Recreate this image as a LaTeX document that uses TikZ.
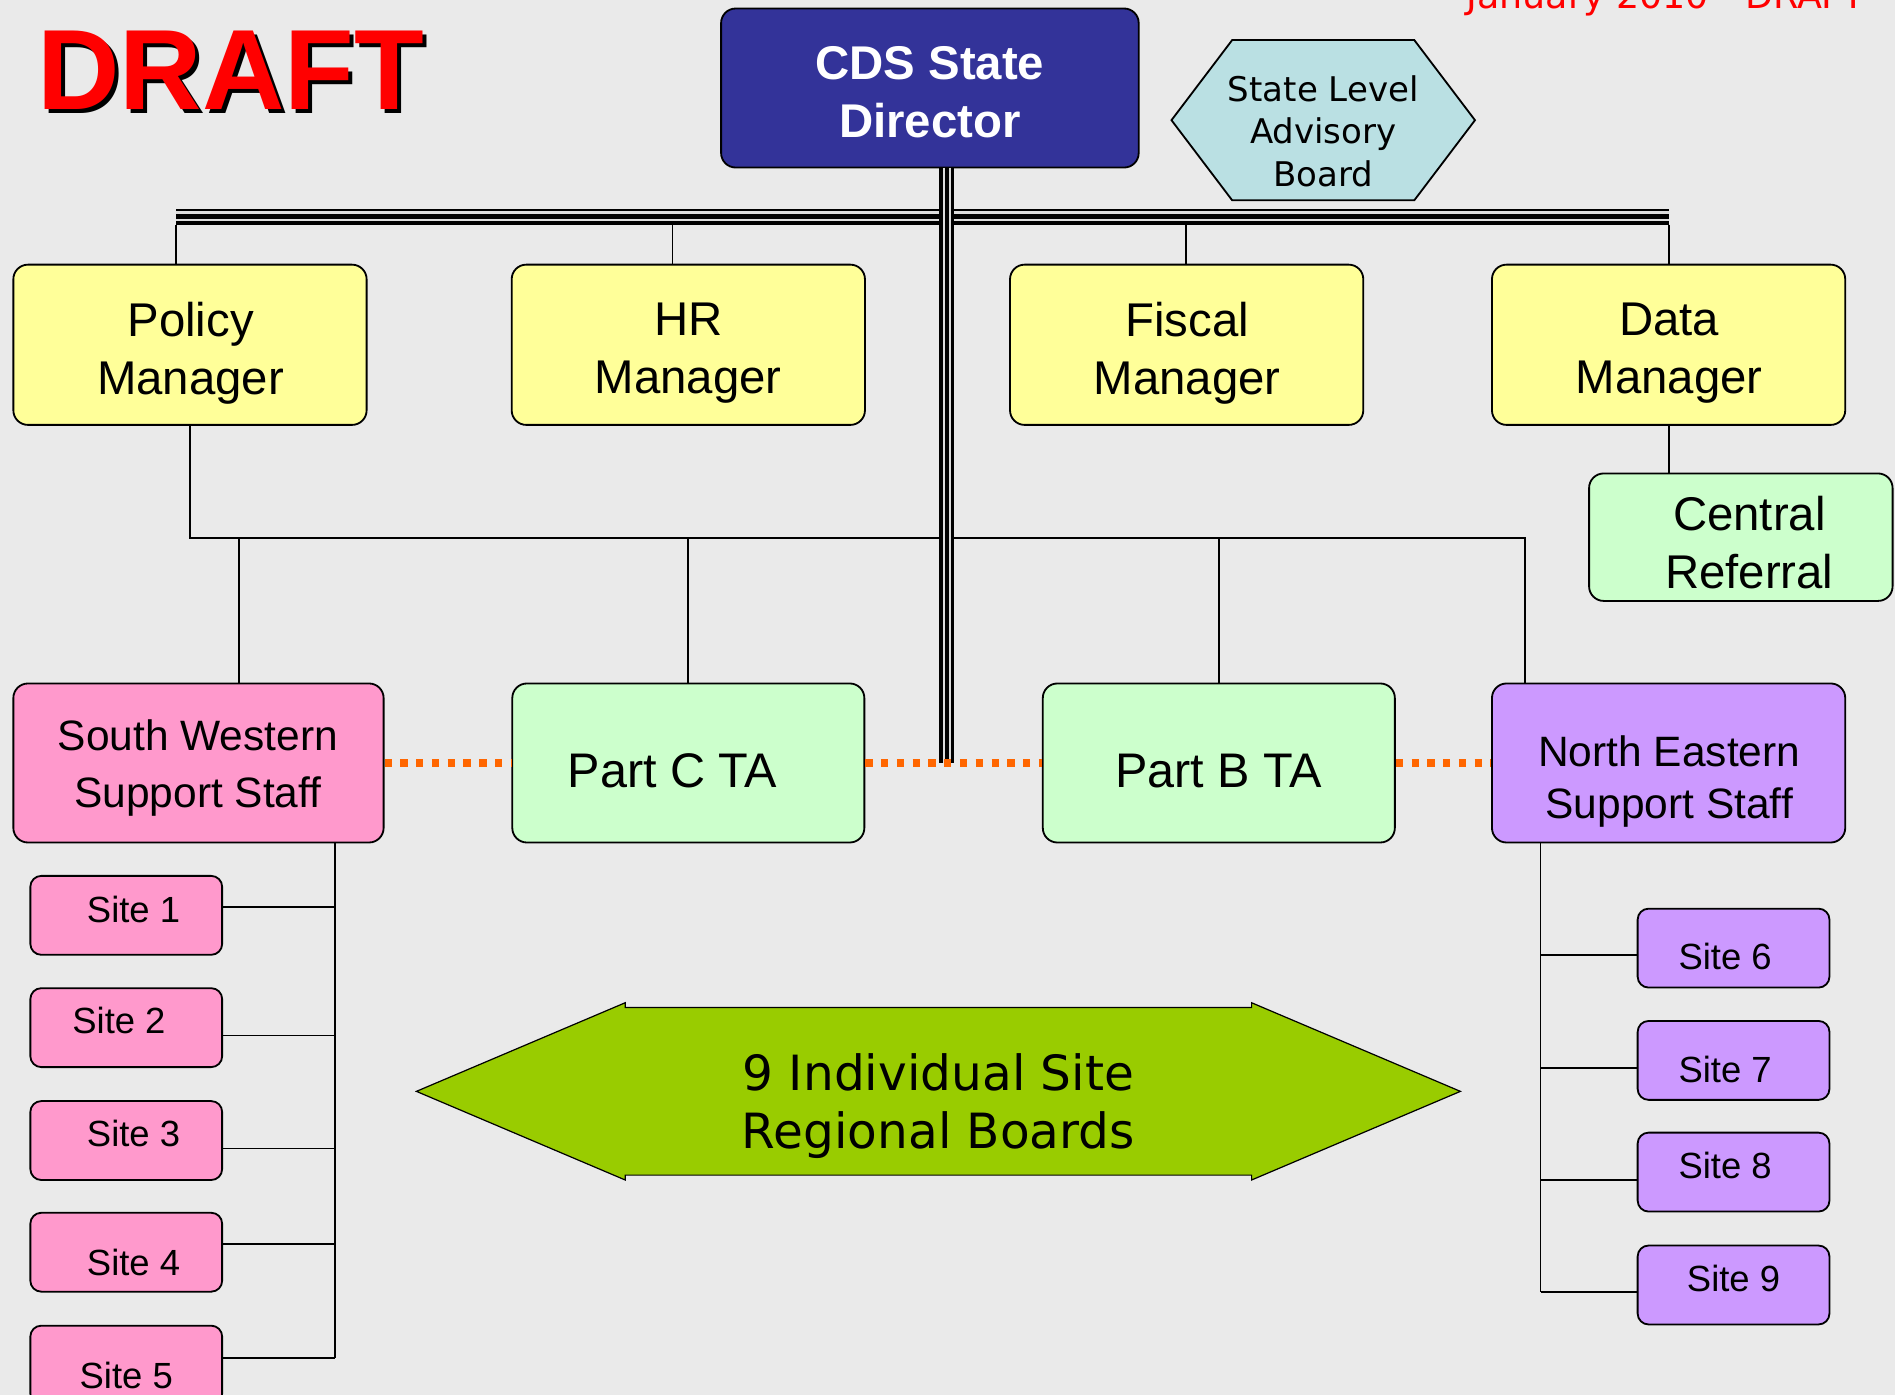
\documentclass[tikz,border=0pt]{standalone}
\usepackage{fontspec}
\setmainfont{Liberation Sans}
\newfontfamily\dejavu{DejaVu Sans}
\definecolor{bgc}{HTML}{EAEAEA}
\definecolor{dirblue}{HTML}{333399}
\definecolor{yelc}{HTML}{FFFF99}
\definecolor{lgreen}{HTML}{CCFFCC}
\definecolor{pinkc}{HTML}{FF99CC}
\definecolor{purc}{HTML}{CC99FF}
\definecolor{hexc}{HTML}{BAE0E3}
\definecolor{arrg}{HTML}{99CC00}
\definecolor{orc}{HTML}{FF6600}
\definecolor{redc}{HTML}{FF0000}
\definecolor{gapc}{HTML}{DCDCDC}
\begin{document}
\begin{tikzpicture}[x=1pt,y=-1pt,
  box/.style={draw=black, line width=1.5pt, rounded corners=12pt, inner sep=0pt},
  mgr/.style={box, fill=yelc, minimum width=291pt, minimum height=132pt},
  ta/.style={box, fill=lgreen, minimum width=290pt, minimum height=131pt},
  pinksite/.style={box, rounded corners=9pt, fill=pinkc, minimum width=158pt, minimum height=65pt},
  pursite/.style={box, rounded corners=9pt, fill=purc, minimum width=158pt, minimum height=65pt},
  txt/.style={inner sep=0pt, align=center},
  bigtxt/.style={txt, font=\fontsize{39}{48}\selectfont},
  regtxt/.style={txt, font=\fontsize{35}{47}\selectfont},
  sitetxt/.style={txt, font=\fontsize{30}{36}\selectfont},
  conn/.style={draw=black, line width=1.5pt},
  dotline/.style={draw=orc, line width=6pt, dash pattern=on 6pt off 7pt},
  barblack/.style={draw=black, line width=12.5pt},
  bargap/.style={draw=gapc, line width=1.8pt}
]
\useasboundingbox (0,0) rectangle (1561,1149);
\clip (0,0) rectangle (1561,1149);
\fill[bgc] (0,0) rectangle (1561,1149);

% header texts
\node[txt, font=\bfseries\fontsize{94}{100}\selectfont, text=black] (draftsh) at (193.5,61.5) {DRAFT};
\node[txt, font=\bfseries\fontsize{94}{100}\selectfont, text=redc] (draft) at (190,58) {DRAFT};
\node[inner sep=0pt, anchor=base east, font=\dejavu\fontsize{30}{36}\selectfont, text=redc] (date) at (1536,7) {January 2010 - DRAFT};

% director
\node[box, fill=dirblue, minimum width=344pt, minimum height=131pt] (dir) at (766,72.5) {};
\node[bigtxt, font=\bfseries\fontsize{39}{48}\selectfont, text=white] (dirt) at (766,76) {CDS State\\Director};

% advisory board hexagon
\draw[line width=1.5pt, fill=hexc] (965,99) -- (1015,33) -- (1165,33) -- (1215,99) -- (1165,165) -- (1015,165) -- cycle;
\node[txt, font=\dejavu\fontsize{28}{35}\selectfont] (adv) at (1090,108) {State Level\\Advisory\\Board};

% managers
\node[mgr] (pol) at (156.5,284) {};
\node[mgr] (hr) at (567,284) {};
\node[mgr] (fis) at (977.5,284) {};
\node[mgr] (dat) at (1374.5,284) {};
\node[bigtxt] (polt) at (157,291) {Policy\\Manager};
\node[bigtxt] (hrt) at (567,291) {HR\\Manager};
\node[bigtxt] (fist) at (978,291) {Fiscal\\Manager};
\node[bigtxt] (datt) at (1375,291) {Data\\Manager};

% central referral
\node[box, fill=lgreen, minimum width=250pt, minimum height=105pt] (cr) at (1434,442.5) {};
\node[bigtxt] (crt) at (1441,447) {Central\\Referral};

% row 3
\node[box, fill=pinkc, minimum width=305pt, minimum height=131pt] (sw) at (163.5,628.5) {};
\node[ta] (pc) at (567,628.5) {};
\node[ta] (pb) at (1004,628.5) {};
\node[box, fill=purc, minimum width=291pt, minimum height=131pt] (ne) at (1374.5,628.5) {};
\node[regtxt] (swt) at (163,633) {South Western\\Support Staff};
\node[txt, font=\fontsize{40}{48}\selectfont] (pct) at (554,635) {Part C TA};
\node[txt, font=\fontsize{40}{48}\selectfont] (pbt) at (1004,635) {Part B TA};
\node[regtxt, font=\fontsize{35}{43}\selectfont] (net) at (1375,644) {North Eastern\\Support Staff};

% sites left
\node[pinksite] (s1) at (104,754) {};
\node[pinksite] (s2) at (104,846.5) {};
\node[pinksite] (s3) at (104,939.5) {};
\node[pinksite] (s4) at (104,1031.5) {};
\node[pinksite] (s5) at (104,1124.5) {};
\node[sitetxt] (s1t) at (110,749) {Site 1};
\node[sitetxt] (s2t) at (98,841) {Site 2};
\node[sitetxt] (s3t) at (110,934) {Site 3};
\node[sitetxt] (s4t) at (110,1040) {Site 4};
\node[sitetxt] (s5t) at (104,1133) {Site 5};

% sites right
\node[pursite] (s6) at (1428,781) {};
\node[pursite] (s7) at (1428,873.5) {};
\node[pursite] (s8) at (1428,965.5) {};
\node[pursite] (s9) at (1428,1058.5) {};
\node[sitetxt] (s6t) at (1421,788) {Site 6};
\node[sitetxt] (s7t) at (1421,881) {Site 7};
\node[sitetxt] (s8t) at (1421,960) {Site 8};
\node[sitetxt] (s9t) at (1428,1053) {Site 9};

% green double arrow
\draw[line width=1pt, fill=arrg] (343,899) -- (515,826) -- (515,830) -- (1031,830) -- (1031,826) -- (1203,899) -- (1031,972) -- (1031,968) -- (515,968) -- (515,972) -- cycle;
\node[txt, font=\dejavu\fontsize{40}{48}\selectfont] (regb) at (773,911) {9 Individual Site\\Regional Boards};

% coordinates
\coordinate (busL) at (145,178.5);
\coordinate (busR) at (1375,178.5);
\coordinate (tap1) at (145,185);
\coordinate (tap2) at (554,185);
\coordinate (tap3) at (977,185);
\coordinate (tap4) at (1375,185);
\coordinate (midR) at (1256,443);
\coordinate (dSW) at (197,443);
\coordinate (vtop) at (780,138);
\coordinate (vbot) at (780,628.5);
\coordinate (swspine) at (276,0);
\coordinate (nespine) at (1269,0);

% bus taps
\draw[conn] (tap1) -- (tap1 |- pol.north);
\draw[conn] (tap2) -- (tap2 |- hr.north);
\draw[conn] (tap3) -- (tap3 |- fis.north);
\draw[conn] (tap4) -- (tap4 |- dat.north);

% middle connectors
\draw[conn] (pol.south) |- (midR) -- (midR |- ne.north);
\draw[conn] (dSW) -- (dSW |- sw.north);
\draw[conn] (pc.north) -- (pc.north |- midR);
\draw[conn] (pb.north) -- (pb.north |- midR);
\draw[conn] (dat.south) -- (dat.south |- cr.north);

% left spine
\draw[conn] (sw.south -| swspine) -- ([yshift=6pt]s5.east -| swspine);
\draw[conn] ([yshift=7pt]s1.east) -- ([yshift=7pt]s1.east -| swspine);
\draw[conn] ([yshift=-6.5pt]s2.east) -- ([yshift=-6.5pt]s2.east -| swspine);
\draw[conn] ([yshift=-6.5pt]s3.east) -- ([yshift=-6.5pt]s3.east -| swspine);
\draw[conn] ([yshift=6.5pt]s4.east) -- ([yshift=6.5pt]s4.east -| swspine);
\draw[conn] ([yshift=6pt]s5.east) -- ([yshift=6pt]s5.east -| swspine);

% right spine
\draw[conn] (ne.south -| nespine) -- ([yshift=-5.5pt]s9.west -| nespine);
\draw[conn] ([yshift=-6pt]s6.west) -- ([yshift=-6pt]s6.west -| nespine);
\draw[conn] ([yshift=-6.5pt]s7.west) -- ([yshift=-6.5pt]s7.west -| nespine);
\draw[conn] ([yshift=-6.5pt]s8.west) -- ([yshift=-6.5pt]s8.west -| nespine);
\draw[conn] ([yshift=-5.5pt]s9.west) -- ([yshift=-5.5pt]s9.west -| nespine);

% triple bus
\draw[barblack, line width=13pt] (busL) -- (busR);
\draw[bargap] ([yshift=3.5pt]busL) -- ([yshift=3.5pt]busR);
\draw[bargap] ([yshift=-3pt]busL) -- ([yshift=-3pt]busR);

% triple vertical from director
\draw[barblack] (vtop) -- (vbot);
\draw[bargap] ([xshift=-2.3pt]vtop) -- ([xshift=-2.3pt]vbot);
\draw[bargap] ([xshift=2.3pt]vtop) -- ([xshift=2.3pt]vbot);

% dotted links
\draw[dotline] (sw.east) -- (pc.west);
\draw[dotline] (pc.east) -- (pb.west);
\draw[dotline] (pb.east) -- (ne.west);
\end{tikzpicture}
\end{document}
